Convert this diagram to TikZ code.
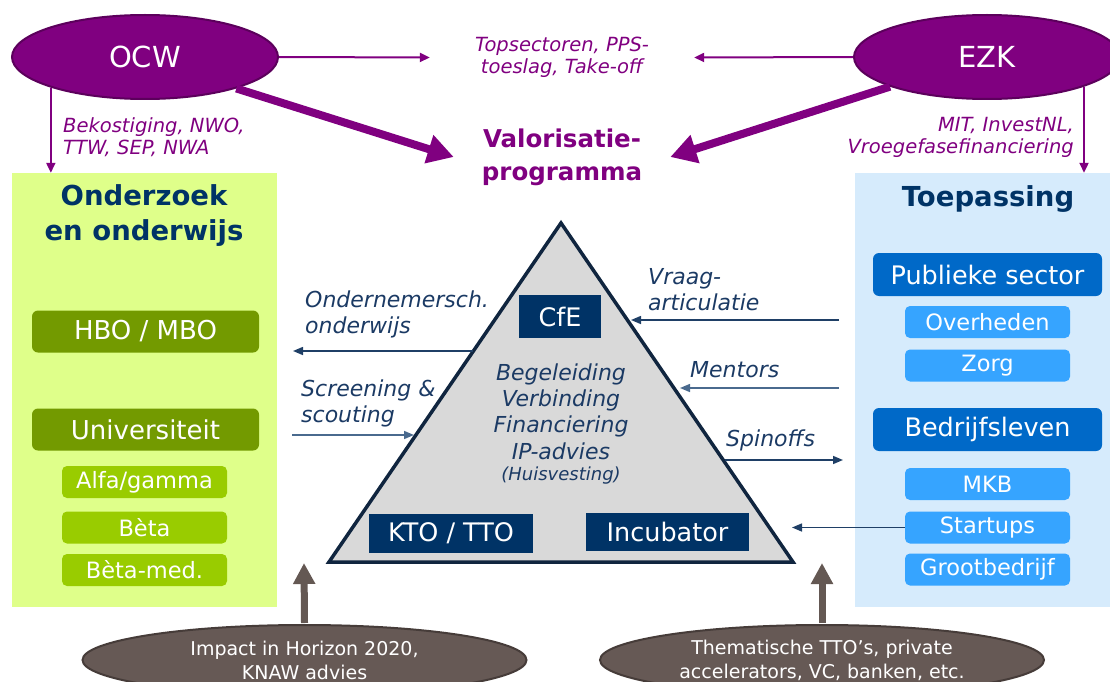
\documentclass[tikz,border=0pt]{standalone}
\usepackage{fontspec}
\setmainfont{DejaVu Sans}
\usetikzlibrary{arrows.meta,shapes.geometric}
\definecolor{purp}{HTML}{800080}
\definecolor{purpd}{HTML}{5C005C}
\definecolor{navy}{HTML}{003366}
\definecolor{navylab}{HTML}{1B3A64}
\definecolor{arrdark}{HTML}{1F3F66}
\definecolor{arrlight}{HTML}{4A6A8E}
\definecolor{limepanel}{HTML}{DFFF8A}
\definecolor{olive}{HTML}{739A00}
\definecolor{limebox}{HTML}{99CC00}
\definecolor{bluepanel}{HTML}{D6EBFC}
\definecolor{midblue}{HTML}{0069C8}
\definecolor{skyblue}{HTML}{36A4FF}
\definecolor{trifill}{HTML}{D9D9D9}
\definecolor{tristroke}{HTML}{10253F}
\definecolor{brownish}{HTML}{665955}
\definecolor{brownd}{HTML}{463C39}
\definecolor{grayarr}{HTML}{645853}
\newcommand\fsz[2]{\fontsize{#1pt}{#2pt}\selectfont}
\begin{document}
\begin{tikzpicture}[x=1pt,y=-1pt,
  gov/.style={ellipse,draw=purpd,line width=2pt,fill=purp,text=white,minimum width=266pt,minimum height=84pt,inner sep=0pt,font=\fsz{29}{34}},
  purplabel/.style={text=purp,font=\fsz{19.5}{22}\itshape,inner sep=0pt},
  parrow/.style={draw=purp,line width=2pt,-{Triangle[length=10pt,width=9pt]}},
  thickarrow/.style={draw=purp,line width=8pt,-{Triangle[length=26pt,width=28pt]}},
  panel/.style={draw=none,inner sep=0pt},
  paneltitle/.style={text=navy,font=\fsz{27.5}{35}\bfseries,align=center,inner sep=0pt},
  gbox/.style={fill=olive,rounded corners=6pt,text=white,minimum width=227pt,minimum height=42pt,inner sep=0pt,font=\fsz{26}{30}},
  lbox/.style={fill=limebox,rounded corners=5pt,text=white,minimum width=165pt,minimum height=32pt,inner sep=0pt,font=\fsz{22.5}{27}},
  bbox/.style={fill=midblue,rounded corners=6pt,text=white,minimum width=229pt,minimum height=43pt,inner sep=0pt,font=\fsz{25.5}{30}},
  sbox/.style={fill=skyblue,rounded corners=5pt,text=white,minimum width=165pt,minimum height=32pt,inner sep=0pt,font=\fsz{22.5}{27}},
  dbox/.style={fill=navy,text=white,inner sep=0pt,font=\fsz{25.5}{30}},
  bluelabel/.style={text=navylab,font=\fsz{22}{25.5}\itshape,inner sep=0pt},
  darrow/.style={draw=arrdark,line width=1.5pt,-{Triangle[length=10pt,width=8pt]}},
  larrow/.style={draw=arrlight,line width=1.5pt,-{Triangle[length=10pt,width=8pt]}},
  bell/.style={ellipse,fill=brownish,draw=brownd,line width=2pt,minimum width=444pt,minimum height=70pt,inner sep=0pt,text=white,align=center,font=\fsz{19}{24}},
  grayarrow/.style={draw=grayarr,line width=7pt,-{Triangle[length=21pt,width=21pt]}}
]
\useasboundingbox (0,0) rectangle (1110,682);
\clip (0,0) rectangle (1110,682);

% panels
\node[panel,fill=limepanel,minimum width=265pt,minimum height=434pt] (onder) at (144.5,390) {};
\node[panel,fill=bluepanel,minimum width=257pt,minimum height=434pt] (toep) at (983.5,390) {};
\node[paneltitle] (ondertitle) at (144,216) {Onderzoek\\en onderwijs};
\node[paneltitle] (toeptitle) at (988,199) {Toepassing};

% government ellipses
\node[gov] (ocw) at (145,57) {OCW};
\node[gov] (ezk) at (987,57) {EZK};

% top labels
\node[purplabel,align=center,inner xsep=45pt] (topsec) at (562,57.5) {Topsectoren, PPS-\\toeslag, Take-off};
\node[text=purp,font=\fsz{24.5}{33}\bfseries,align=center,inner xsep=28pt,inner ysep=0pt] (valor) at (562,157) {Valorisatie-\\programma};
\node[purplabel,align=left,anchor=west] (bek) at (63,137) {Bekostiging, NWO,\\TTW, SEP, NWA};
\node[purplabel,align=right,anchor=east] (mit) at (1074,137) {MIT, InvestNL,\\Vroegefasefinanciering};

% purple arrows
\draw[parrow] (ocw.east) -- (topsec.west);
\draw[parrow] (ezk.west) -- (topsec.east);
\draw[parrow] (ocw.198) -- (ocw.198 |- onder.north);
\draw[parrow] (ezk.-17.2) -- (ezk.-17.2 |- toep.north);
\draw[thickarrow] (ocw.-19) -- (valor.west);
\draw[thickarrow] (ezk.197) -- (valor.east);

% left boxes
\node[gbox] (hbo) at (145.5,331.5) {HBO / MBO};
\node[gbox] (uni) at (145.5,429.5) {Universiteit};
\node[lbox] (alfa) at (144.5,482) {Alfa/gamma};
\node[lbox] (beta) at (144.5,527.5) {Bèta};
\node[lbox] (betamed) at (144.5,570) {Bèta-med.};

% right boxes
\node[bbox] (pub) at (987.5,274.5) {Publieke sector};
\node[sbox] (overh) at (987.5,322) {Overheden};
\node[sbox] (zorg) at (987.5,365.5) {Zorg};
\node[bbox] (bedr) at (987.5,429.5) {Bedrijfsleven};
\node[sbox] (mkb) at (987.5,484) {MKB};
\node[sbox] (startups) at (987.5,527.5) {Startups};
\node[sbox] (groot) at (987.5,569.5) {Grootbedrijf};

% triangle
\draw[fill=trifill,draw=tristroke,line width=3.5pt,line join=miter] (561,223) -- (793,562) -- (329,562) -- cycle;
\node[dbox,minimum width=82pt,minimum height=43pt] (cfe) at (560,316.5) {CfE};
\node[dbox,minimum width=164pt,minimum height=39pt] (kto) at (451,533.5) {KTO / TTO};
\node[dbox,minimum width=163pt,minimum height=38pt] (incub) at (667.5,532) {Incubator};
\node[bluelabel,align=center,font=\fsz{22}{26.3}\itshape] (cent) at (561,411.5) {Begeleiding\\Verbinding\\Financiering\\IP-advies};
\node[bluelabel,font=\fsz{18}{20}\itshape] (huis) at (561,476) {(Huisvesting)};

% side labels
\node[bluelabel,align=left,anchor=west] (ondlab) at (305,314.5) {Ondernemersch.\\onderwijs};
\node[bluelabel,align=left,anchor=west] (scrlab) at (301,403.5) {Screening \&\\scouting};
\node[bluelabel,align=left,anchor=west] (vrlab) at (648,289.5) {Vraag-\\articulatie};
\node[bluelabel,anchor=west] (menlab) at (690,370) {Mentors};
\node[bluelabel,anchor=west] (spinlab) at (726,440) {Spinoffs};

% connector ends
\coordinate (ondS) at (473,351);
\coordinate (ondE) at (293,351);
\coordinate (scrS) at (292,435);
\coordinate (scrE) at (414,435);
\coordinate (vrS) at (839,320);
\coordinate (vrE) at (631,320);
\coordinate (menS) at (839,388);
\coordinate (menE) at (680,388);
\coordinate (spS) at (725,460);
\coordinate (spE) at (843,460);
\coordinate (incE) at (792,527.5);

\draw[darrow] (ondS) -- (ondE);
\draw[larrow] (scrS) -- (scrE);
\draw[darrow] (vrS) -- (vrE);
\draw[larrow] (menS) -- (menE);
\draw[darrow] (spS) -- (spE);
\draw[darrow] (startups.west) -- (incE);

% bottom
\coordinate (tipL) at (304,563);
\coordinate (tipR) at (822,563);
\node[bell] (imp) at (304.5,660) {Impact in Horizon 2020,\\KNAW advies};
\node[bell] (them) at (822,660) {Thematische TTO’s, private\\accelerators, VC, banken, etc.};
\draw[grayarrow] ([yshift=1pt]imp.north) -- (tipL);
\draw[grayarrow] ([yshift=1pt]them.north) -- (tipR);
\end{tikzpicture}
\end{document}
